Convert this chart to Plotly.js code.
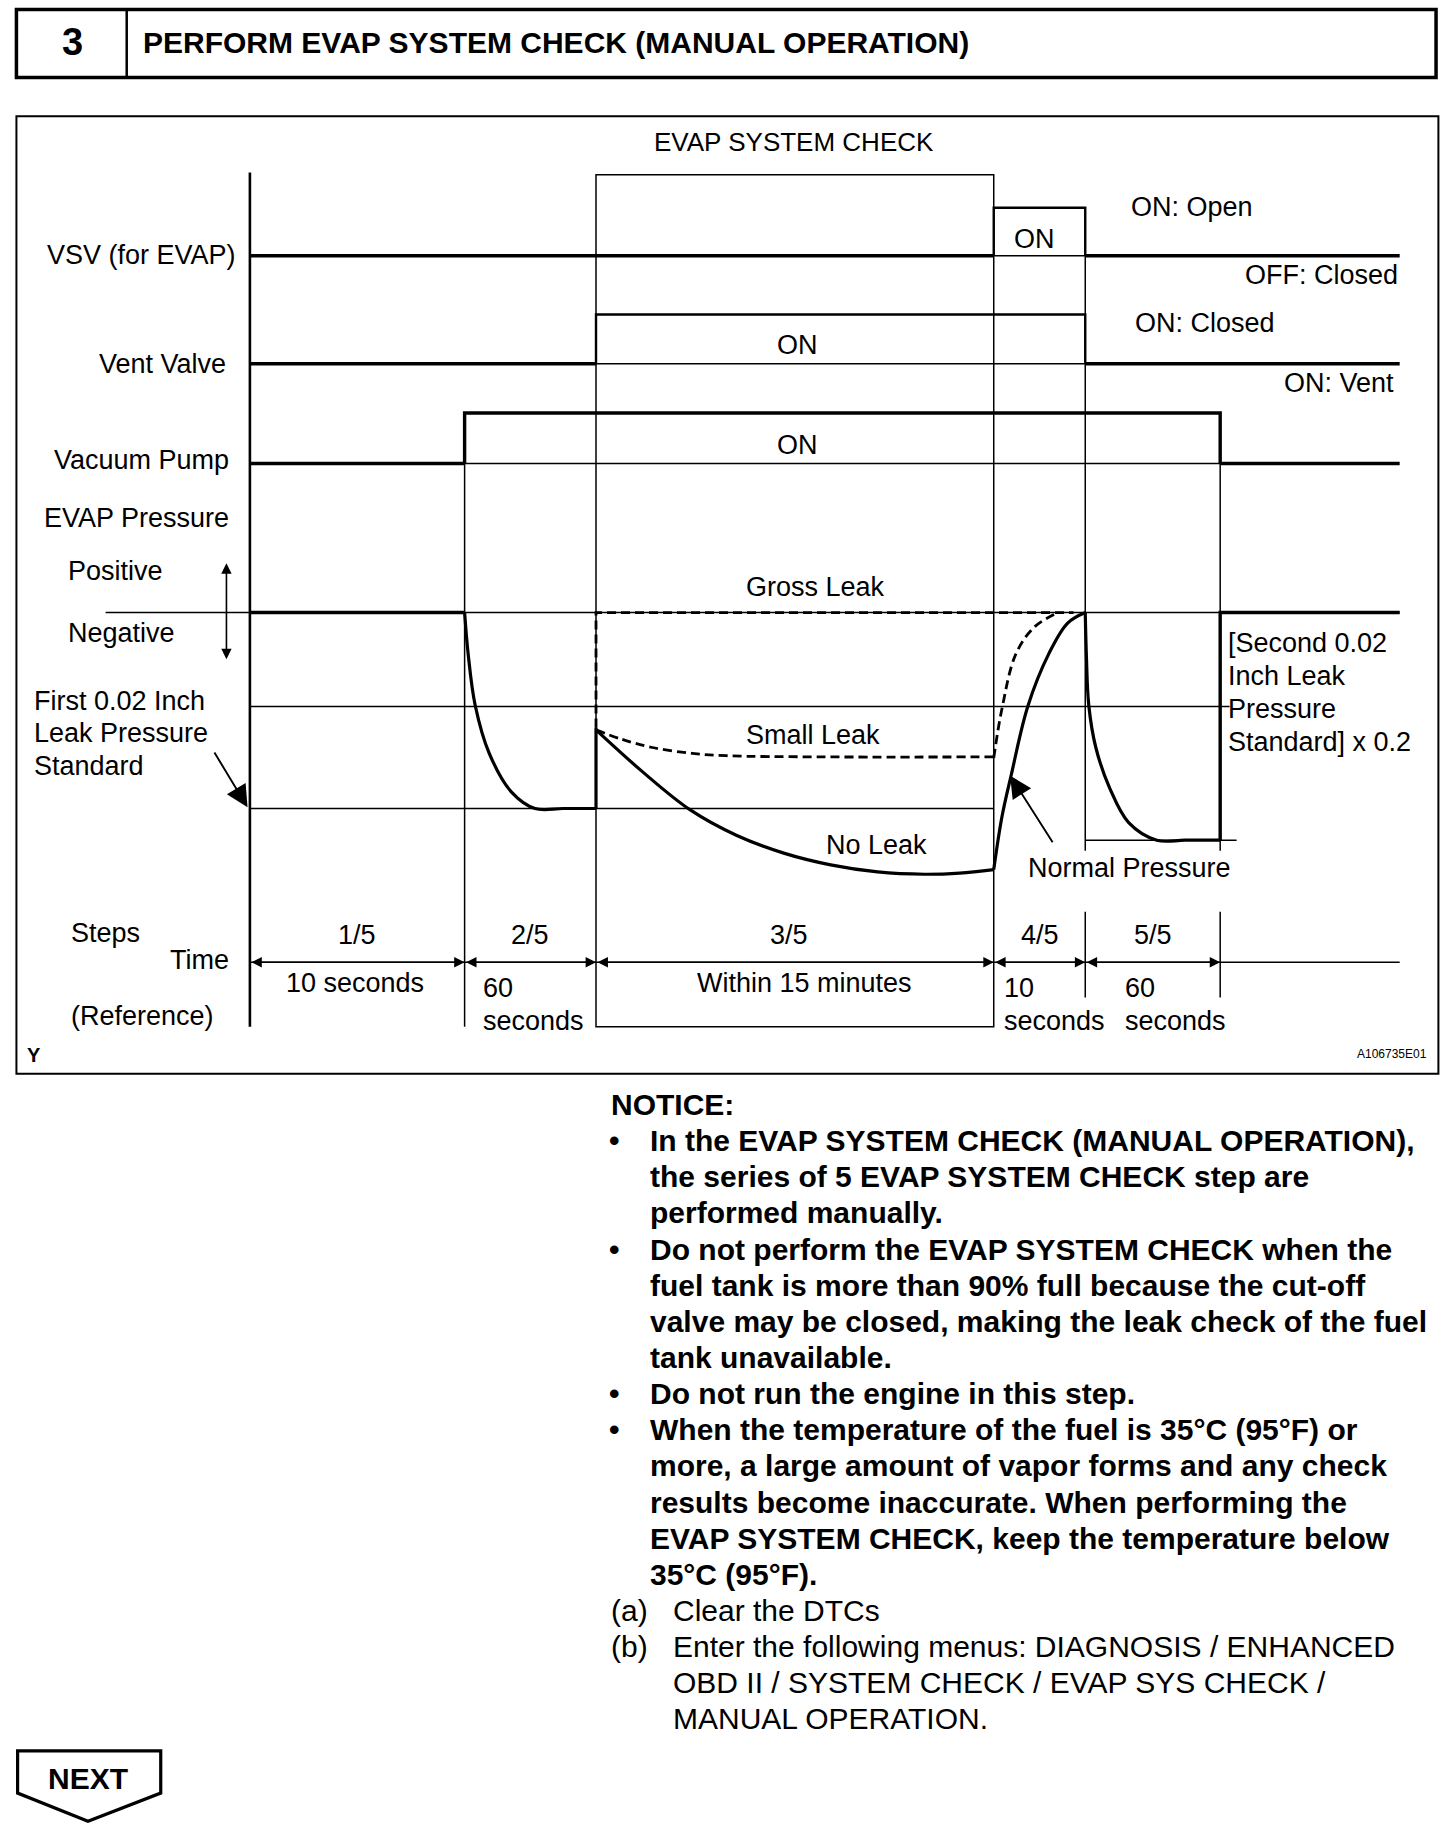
<!DOCTYPE html>
<html><head><meta charset="utf-8">
<script src="https://cdn.plot.ly/plotly-3.0.1.min.js"></script>
<style>html,body{margin:0;padding:0;background:#fff}#chart{width:1456px;height:1840px}</style>
</head><body><div id="chart"></div>
<script>
// ---------- DATA ----------
// schematic time axis: step boundaries
const stepEdges = [213, 396, 508, 847, 925, 1040];
const axisEnd = 1193;
const stepLabels = ['1/5', '2/5', '3/5', '4/5', '5/5'];
const stepTimeMain = ['10 seconds', '60', 'Within 15 minutes', '10', '60'];
const stepTimeSecond = ['', 'seconds', '', 'seconds', 'seconds'];

// on/off signal rows
const signalNames = ['VSV (for EVAP)', 'Vent Valve', 'Vacuum Pump'];
const signalLow = [218, 310, 395];
const signalHigh = [177, 268, 352];
const signalOnStart = [847, 508, 396];
const signalOnEnd = [925, 925, 1040];

// EVAP pressure levels
const pressZero = 522, pressMid = 602, pressFirstStd = 689, pressSecondStd = 716;

// EVAP pressure curves (schematic units)
const step1X = [213, 396], step1Y = [522, 522];
const evacX = [396, 399, 405, 417, 436, 456, 480, 508], evacY = [522, 557, 601, 642, 675, 689, 689, 689];
const holdX = [508, 508], holdY = [689, 620];
const noLeakX = [508, 548, 588, 628, 668, 708, 748, 788, 818, 847], noLeakY = [622, 658, 690, 712, 727, 737, 743, 745, 744, 741];
const smallLeakX = [508, 530, 556, 590, 619, 700, 847], smallLeakY = [622, 630, 637, 642, 644, 645, 645];
const grossLeakX = [508, 508, 915], grossLeakY = [620, 522, 522];
const releaseX = [847, 854, 862, 876, 894, 910, 925], releaseY = [741, 696, 660, 602, 557, 531, 522];
const releaseDashX = [847, 854, 866, 882, 902], releaseDashY = [646, 604, 557, 534, 522];
const recheckX = [925, 926, 928, 934, 946, 962, 986, 1010, 1040], recheckY = [522, 560, 601, 637, 672, 701, 716, 716, 716];
const restoreX = [1040, 1040, 1193], restoreY = [716, 522, 522];

const noticeLines = [
  ['•', 'In the EVAP SYSTEM CHECK (MANUAL OPERATION),'],
  ['', 'the series of 5 EVAP SYSTEM CHECK step are'],
  ['', 'performed manually.'],
  ['•', 'Do not perform the EVAP SYSTEM CHECK when the'],
  ['', 'fuel tank is more than 90% full because the cut-off'],
  ['', 'valve may be closed, making the leak check of the fuel'],
  ['', 'tank unavailable.'],
  ['•', 'Do not run the engine in this step.'],
  ['•', 'When the temperature of the fuel is 35°C (95°F) or'],
  ['', 'more, a large amount of vapor forms and any check'],
  ['', 'results become inaccurate. When performing the'],
  ['', 'EVAP SYSTEM CHECK, keep the temperature below'],
  ['', '35°C (95°F).']
];
const procLines = [
  ['(a)', 'Clear the DTCs'],
  ['(b)', 'Enter the following menus: DIAGNOSIS / ENHANCED'],
  ['', 'OBD II / SYSTEM CHECK / EVAP SYS CHECK /'],
  ['', 'MANUAL OPERATION.']
];

// ---------- DRAWING ----------
const FONT = 'Liberation Sans, Arial, Helvetica, sans-serif';
const traces = [];
function tr(x, y, w, opts) {
  opts = opts || {};
  traces.push({
    type: 'scatter', mode: 'lines', x: x, y: y, hoverinfo: 'skip', cliponaxis: false,
    line: {color: '#000', width: w, shape: opts.spline ? 'spline' : 'linear', dash: opts.dash || 'solid'}
  });
}
const ann = [];
function txt(x, y, text, xa, size, extra) {
  const a = {x: x, y: y, xref: 'x', yref: 'y', text: text, showarrow: false,
    xanchor: xa || 'center', yanchor: 'middle',
    font: {family: FONT, size: size || 27, color: '#000'}};
  Object.assign(a, extra || {});
  ann.push(a);
}
function arrow(x, y, ax, ay, both, big) {
  ann.push({x: x, y: y, ax: ax, ay: ay, xref: 'x', yref: 'y', axref: 'x', ayref: 'y',
    text: '', showarrow: true, arrowhead: 2, arrowsize: big ? 2.3 : 1.3, arrowwidth: big ? 1.9 : 1.6,
    arrowside: both ? 'end+start' : 'end', startarrowhead: 2, startarrowsize: 1.3,
    standoff: 0, startstandoff: 0, arrowcolor: '#000'});
}
const shapes = [];
function ln(x0, y0, x1, y1, w, layer) {
  shapes.push({type: 'line', xref: 'x', yref: 'y', x0: x0, y0: y0, x1: x1, y1: y1,
    line: {color: '#000', width: w}, layer: layer || 'below'});
}

// header
shapes.push({type: 'rect', xref: 'x', yref: 'y', x0: 14, y0: 8, x1: 1224, y1: 66, line: {color: '#000', width: 3.5}});
ln(108, 8, 108, 66, 2.5, 'above');
txt(62, 36, '<b>3</b>', 'center', 38);
txt(120, 36, '<b>PERFORM EVAP SYSTEM CHECK (MANUAL OPERATION)</b>', 'left', 30);

// diagram frame
shapes.push({type: 'rect', xref: 'x', yref: 'y', x0: 14, y0: 99, x1: 1226, y1: 915, line: {color: '#000', width: 2}});
txt(677, 121, 'EVAP SYSTEM CHECK', 'center', 26);

// structural thin lines
ln(stepEdges[0], 147, stepEdges[0], 875, 2.6);
ln(stepEdges[1], signalHigh[2], stepEdges[1], 875, 1.5);
shapes.push({type: 'rect', xref: 'x', yref: 'y', x0: stepEdges[2], y0: 149, x1: stepEdges[3], y1: 875, line: {color: '#000', width: 1.5}, layer: 'below'});
ln(stepEdges[4], signalHigh[0], stepEdges[4], 725, 1.5);
ln(stepEdges[4], 777, stepEdges[4], 850, 1.5);
ln(stepEdges[5], signalHigh[2], stepEdges[5], 725, 1.5);
ln(stepEdges[5], 777, stepEdges[5], 850, 1.5);
ln(90, pressZero, axisEnd, pressZero, 1.5);
ln(stepEdges[0], pressMid, 1048, pressMid, 1.5);
ln(stepEdges[0], pressFirstStd, stepEdges[3], pressFirstStd, 1.5);
ln(stepEdges[4], pressSecondStd, 1054, pressSecondStd, 1.5);
ln(stepEdges[0], 820, axisEnd, 820, 1.5);

// signal rows
const pulseW = [2.4, 2.4, 3.4];
const labelX = [203, 194, 197];
const labelDy = [-1, 0, -3];
for (let i = 0; i < signalNames.length; i++) {
  ln(signalOnStart[i], signalLow[i], signalOnEnd[i], signalLow[i], 1.5);
  tr([stepEdges[0], signalOnStart[i]], [signalLow[i], signalLow[i]], 3.4);
  tr([signalOnStart[i], signalOnStart[i], signalOnEnd[i], signalOnEnd[i]],
     [signalLow[i], signalHigh[i], signalHigh[i], signalLow[i]], pulseW[i]);
  tr([signalOnEnd[i], axisEnd], [signalLow[i], signalLow[i]], 3.4);
  txt(labelX[i], signalLow[i] + labelDy[i], signalNames[i], 'right');
}
txt(882, 204, 'ON');
txt(680, 294, 'ON');
txt(680, 379, 'ON');
txt(962, 176, 'ON: Open', 'left');
txt(1193, 234, 'OFF: Closed', 'right');
txt(966, 275, 'ON: Closed', 'left');
txt(1190, 326, 'ON: Vent', 'right');

// pressure
txt(197, 441, 'EVAP Pressure', 'right');
txt(56, 487, 'Positive', 'left');
txt(56, 539, 'Negative', 'left');
arrow(193, 480, 193, 563, true);
txt(27, 597, 'First 0.02 Inch', 'left');
txt(27, 625, 'Leak Pressure', 'left');
txt(27, 653, 'Standard', 'left');
arrow(211, 688, 182, 640, false, true);

const DASH = '9px,5px';
tr(step1X, step1Y, 3.4);
tr(evacX, evacY, 3.2, {spline: true});
tr(holdX, holdY, 3.2);
tr(noLeakX, noLeakY, 3.2, {spline: true});
tr(smallLeakX, smallLeakY, 2.8, {spline: true, dash: DASH});
tr(grossLeakX, grossLeakY, 2.8, {dash: DASH});
tr(releaseX, releaseY, 3.2, {spline: true});
tr(releaseDashX, releaseDashY, 2.8, {spline: true, dash: DASH});
tr(recheckX, recheckY, 3.2, {spline: true});
tr(restoreX, restoreY, 3.4);

txt(695, 500, 'Gross Leak');
txt(693, 626, 'Small Leak');
txt(747, 720, 'No Leak');
txt(963, 740, 'Normal Pressure');
arrow(861, 661, 898, 719, false, true);
txt(1045, 548, '[Second 0.02', 'left');
txt(1045, 576, 'Inch Leak', 'left');
txt(1045, 604, 'Pressure', 'left');
txt(1045, 632, 'Standard] x 0.2', 'left');

// steps / time
txt(59, 795, 'Steps', 'left');
txt(197, 818, 'Time', 'right');
txt(59, 866, '(Reference)', 'left');
const twoLineLeft = [null, 410, null, 854, 957];
for (let i = 0; i < stepLabels.length; i++) {
  const a = stepEdges[i], b = stepEdges[i + 1];
  const mid = (a + b) / 2;
  txt(mid + (i === 2 ? -5 : 0), 797, stepLabels[i]);
  arrow(b, 820, a, 820, true);
  if (stepTimeSecond[i]) {
    txt(twoLineLeft[i], 842, stepTimeMain[i], 'left');
    txt(twoLineLeft[i], 870, stepTimeSecond[i], 'left');
  } else {
    txt(mid + (i === 2 ? 8 : -2), 838, stepTimeMain[i]);
  }
}
txt(21, 899, '<b>Y</b>', 'left', 20);
txt(1218, 898, 'A106735E01', 'right', 12);

// notice text
txt(519, 941, '<b>NOTICE:</b>', 'left', 30);
const lineStep = 30.8;
for (let i = 0; i < noticeLines.length; i++) {
  const y = 972 + i * lineStep;
  if (noticeLines[i][0]) txt(524, y, '<b>' + noticeLines[i][0] + '</b>', 'center', 30);
  txt(552, y, '<b>' + noticeLines[i][1] + '</b>', 'left', 30);
}
for (let i = 0; i < procLines.length; i++) {
  const y = 972 + (noticeLines.length + i) * lineStep;
  if (procLines[i][0]) txt(519, y, procLines[i][0], 'left', 30);
  txt(572, y, procLines[i][1], 'left', 30);
}

// NEXT button
shapes.push({type: 'path', xref: 'x', yref: 'y', path: 'M15,1492 L137,1492 L137,1528 L75,1552 L15,1528 Z',
  line: {color: '#000', width: 3.2}});
txt(75, 1516, '<b>NEXT</b>', 'center', 30);

const layout = {
  width: 1456, height: 1840, margin: {l: 0, r: 0, t: 0, b: 0, pad: 0},
  paper_bgcolor: '#fff', plot_bgcolor: '#fff', showlegend: false,
  xaxis: {range: [0, 1241], visible: false, fixedrange: true},
  yaxis: {range: [1568, 0], visible: false, fixedrange: true},
  shapes: shapes, annotations: ann
};
Plotly.newPlot('chart', traces, layout, {staticPlot: true, displayModeBar: false});
</script></body></html>
